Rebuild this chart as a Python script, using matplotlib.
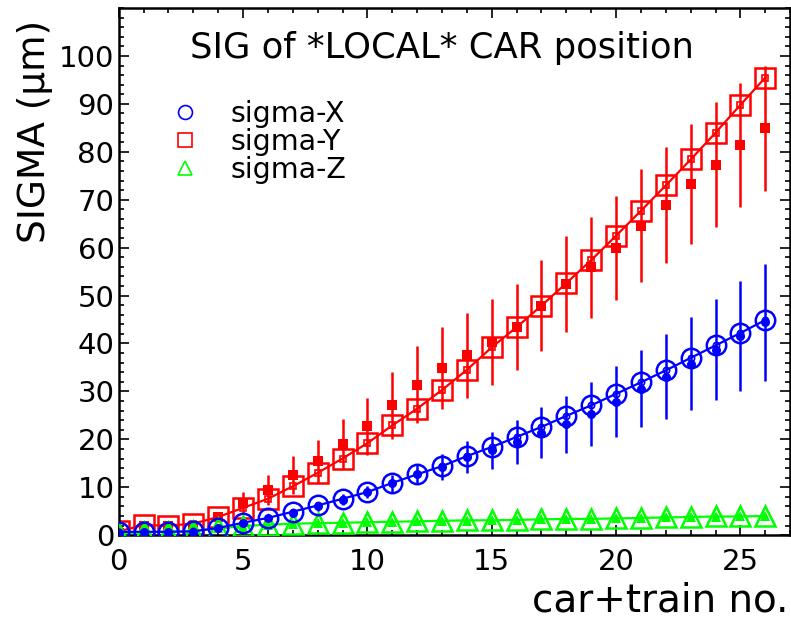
import matplotlib
matplotlib.use("Agg")
import matplotlib.pyplot as plt
from matplotlib.lines import Line2D
import numpy as np

plt.rcParams.update({'font.family': 'DejaVu Sans', 'font.size': 21})

BLUE = (0, 0, 1)
RED = (1, 0, 0)
GREEN = (0, 1, 0)

car_no = list(range(27))

# sigma-X : fitted (open) / measured (filled) with errors
sigx_fit = [0.7, 0.7, 0.7, 0.8, 1.5, 2.6, 3.6, 4.9, 6.2, 7.6, 9.0, 10.9, 12.7, 14.4, 16.5, 18.4,
            20.5, 22.6, 24.9, 27.1, 29.5, 31.9, 34.4, 37.0, 39.6, 42.2, 44.9]
sigx_meas = [0.5, 0.6, 0.6, 0.7, 1.4, 2.5, 3.5, 4.7, 6.0, 7.4, 9.0, 10.8, 12.7, 14.2, 16.3, 17.7,
             19.4, 21.4, 23.1, 25.3, 27.8, 30.6, 33.1, 35.8, 38.7, 41.5, 44.4]
sigx_err = [0.2, 0.2, 0.2, 0.2, 0.3, 0.4, 0.6, 0.8, 1.0, 1.2, 1.3, 1.7, 2.1, 2.7, 3.4, 3.9,
            4.6, 5.3, 6.0, 6.7, 7.4, 8.1, 8.9, 9.7, 10.5, 11.5, 12.2]

# sigma-Y
sigy_fit = [0.8, 2.1, 2.0, 2.4, 3.8, 5.7, 7.6, 10.2, 13.0, 16.0, 19.2, 22.9, 26.4, 30.3, 34.5, 39.2,
            43.4, 47.9, 52.6, 57.4, 62.5, 67.7, 73.0, 78.4, 84.0, 89.8, 95.5]
sigy_meas = [0.5, 1.9, 1.9, 1.9, 3.8, 6.7, 9.4, 12.5, 15.4, 19.0, 22.7, 27.1, 31.4, 34.9, 37.5, 40.3,
             43.5, 47.9, 52.4, 55.9, 59.9, 64.6, 68.9, 73.3, 77.3, 81.4, 84.9]
sigy_err = [0.3, 0.5, 0.5, 0.6, 1.1, 2.3, 3.2, 4.0, 4.5, 5.2, 6.0, 7.0, 8.0, 8.5, 8.8, 8.9,
            9.0, 9.5, 10.0, 10.5, 10.9, 11.8, 12.0, 12.5, 13.0, 13.0, 13.0]

# sigma-Z
sigz_fit = [0.3, 0.6, 0.7, 0.9, 1.4, 1.9, 2.2, 2.4, 2.5, 2.6, 2.7, 2.8, 2.9, 3.0, 3.1, 3.1,
            3.2, 3.3, 3.4, 3.4, 3.5, 3.6, 3.7, 3.8, 3.9, 3.9, 4.0]
sigz_meas = [0.5, 1.5, 1.6, 1.7, 1.6, 1.8, 2.1, 2.3, 2.5, 2.6, 2.7, 2.8, 2.9, 3.0, 3.0, 3.1,
             3.2, 3.3, 3.3, 3.4, 3.5, 3.6, 3.7, 3.8, 3.8, 3.9, 4.0]
sigz_err = [0.2, 0.3, 0.3, 0.3, 0.3, 0.3, 0.3, 0.3, 0.3, 0.3, 0.3, 0.3, 0.3, 0.4, 0.4, 0.4,
            0.4, 0.4, 0.4, 0.4, 0.4, 0.5, 0.5, 0.5, 0.5, 0.5, 0.5]

x_ticks = [0, 5, 10, 15, 20, 25]
y_ticks = [0, 10, 20, 30, 40, 50, 60, 70, 80, 90, 100]


def draw_series(ax, fit, meas, err, color, marker, z):
    ax.errorbar(car_no, meas, yerr=err, fmt=marker, color=color, ms=6.5, mew=0,
                elinewidth=1.8, capsize=3.8, capthick=1.8, zorder=z)
    ax.plot(car_no, fit, '-', color=color, lw=1.6, marker=marker, ms=14, mfc='none',
            mew=1.8, zorder=z + 0.5)
    ax.plot(car_no, fit, 'none', marker=marker, ms=4.5, mfc='none', mec=color,
            mew=1.2, zorder=z + 0.6)


fig = plt.figure(figsize=(7.91, 6.18), dpi=100)
ax = fig.add_axes([0.150, 0.134, 0.849, 0.853])

draw_series(ax, sigy_fit, sigy_meas, sigy_err, RED, 's', 2)
draw_series(ax, sigz_fit, sigz_meas, sigz_err, GREEN, '^', 3)
draw_series(ax, sigx_fit, sigx_meas, sigx_err, BLUE, 'o', 4)

ax.set_xlim(0, 27)
ax.set_ylim(0, 110)
ax.set_xticks(x_ticks)
ax.set_yticks(y_ticks)
ax.set_xticks(np.arange(0, 28, 1), minor=True)
ax.set_yticks(np.arange(0, 111, 2), minor=True)
ax.tick_params(which='both', direction='in', top=True, right=True, width=1.2)
ax.tick_params(which='major', length=7)
ax.tick_params(which='minor', length=3.5)
ax.tick_params(axis='x', pad=9)
ax.tick_params(axis='y', pad=3)
for sp in ax.spines.values():
    sp.set_linewidth(1.8)

ax.set_ylabel('SIGMA (μm)', fontsize=27, va='center')
ax.yaxis.set_label_coords(-0.125, 0.765)
ax.set_xlabel('car+train no.', fontsize=28, ha='right', va='center')
ax.xaxis.set_label_coords(0.998, -0.123)

ax.text(0.481, 0.924, 'SIG of *LOCAL* CAR position', transform=ax.transAxes,
        fontsize=25.5, ha='center', va='center')

handles = [Line2D([], [], ls='none', marker='o', ms=10, mfc='none', mec=BLUE, mew=1.2),
           Line2D([], [], ls='none', marker='s', ms=10, mfc='none', mec=RED, mew=1.2),
           Line2D([], [], ls='none', marker='^', ms=10, mfc='none', mec=GREEN, mew=1.2)]
ax.legend(handles, ['sigma-X', 'sigma-Y', 'sigma-Z'], loc='upper left',
          bbox_to_anchor=(0.06, 0.847), frameon=False, fontsize=20.5,
          labelspacing=0.0, handlelength=1.0, handletextpad=1.1, borderaxespad=0)

fig.savefig('out.png', dpi=100)
